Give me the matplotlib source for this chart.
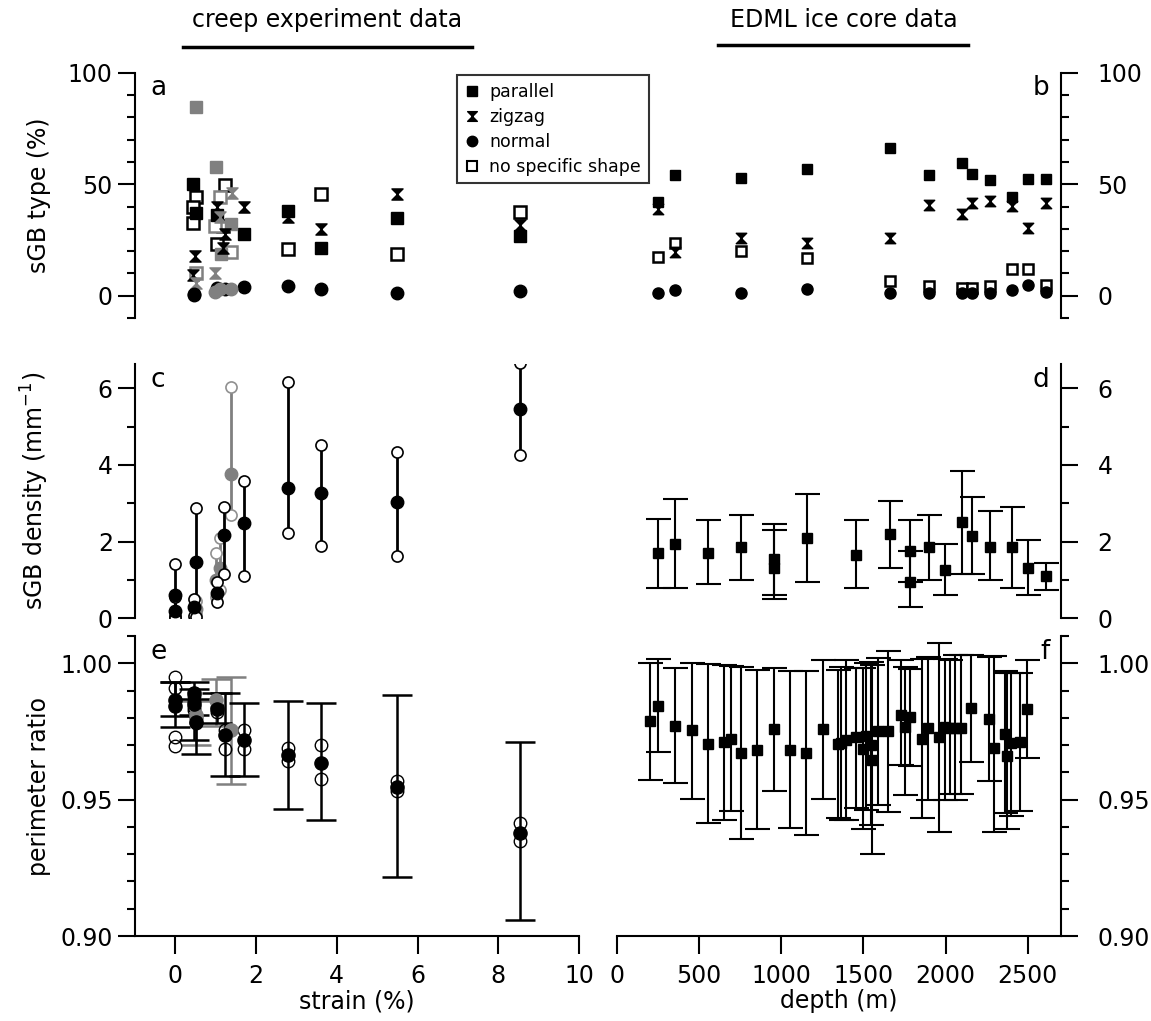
import numpy as np
import matplotlib
matplotlib.use("Agg")
import matplotlib.pyplot as plt
from matplotlib.path import Path
from matplotlib.lines import Line2D
from matplotlib.ticker import MultipleLocator

plt.rcParams['font.family'] = ['DejaVu Sans']

# ---------------- data: creep experiments (strain %) ----------------
# panel a, black samples
par_strain = [0.44, 0.51, 1.03, 1.71, 2.8, 3.6, 5.5, 8.55]
par_val = [50.1, 37.0, 36.0, 27.7, 38.0, 21.5, 35.0, 26.8]
zig_strain = [0.44, 0.48, 1.03, 1.18, 1.24, 1.71, 2.8, 3.6, 5.5, 8.55]
zig_val = [9.3, 17.9, 39.6, 21.3, 27.7, 39.9, 35.4, 30.0, 45.5, 31.6]
nor_strain = [0.46, 0.46, 1.03, 1.24, 1.71, 2.8, 3.6, 5.5, 8.55]
nor_val = [0.3, 0.9, 3.3, 2.8, 4.0, 4.2, 3.0, 1.0, 2.0]
nss_strain = [0.51, 0.44, 0.44, 1.24, 1.18, 1.03, 2.8, 3.6, 5.5, 8.55]
nss_val = [44.4, 39.6, 32.5, 49.6, 31.3, 23.2, 20.8, 45.5, 18.7, 37.5]
# panel a, grey sample
par_g_strain = [0.51, 1.0, 1.39, 1.13]
par_g_val = [84.8, 57.6, 32.0, 18.7]
zig_g_strain = [1.40, 1.11, 0.99, 0.50]
zig_g_val = [45.9, 35.4, 10.0, 5.6]
nss_g_strain = [1.11, 0.99, 1.38, 0.51]
nss_g_val = [44.1, 31.3, 19.5, 10.0]
nor_g_strain = [0.99, 1.11, 1.39]
nor_g_val = [1.5, 2.8, 2.8]

# panel c: sGB density mean, min, max
c_strain = [0, 0, 0.45, 0.5, 1.03, 1.21, 1.71, 2.8, 3.6, 5.5, 8.55]
c_mean = [0.60, 0.20, 0.30, 1.48, 0.67, 2.17, 2.49, 3.41, 3.27, 3.03, 5.45]
c_min = [0.05, 0.00, 0.05, 0.04, 0.43, 1.16, 1.10, 2.22, 1.88, 1.62, 4.26]
c_max = [1.42, 0.55, 0.50, 2.87, 0.95, 2.91, 3.59, 6.15, 4.51, 4.33, 6.65]
c_g_strain = [0.5, 1.0, 1.1, 1.38]
c_g_mean = [0.25, 1.00, 1.30, 3.76]
c_g_min = [0.10, 0.56, 0.74, 2.69]
c_g_max = [0.45, 1.71, 2.09, 6.02]

# panel e: perimeter ratio mean, error bar bounds, two single estimates
e_strain = [0, 0, 0.45, 0.45, 0.5, 1.03, 1.24, 1.71, 2.8, 3.6, 5.5, 8.55]
e_mean = [0.9866, 0.9844, 0.9890, 0.9851, 0.9786, 0.9832, 0.9738, 0.9719, 0.9665, 0.9635, 0.9548, 0.9378]
e_lo = [0.9805, 0.9768, 0.9810, 0.9717, 0.9668, 0.9780, 0.9585, 0.9585, 0.9466, 0.9424, 0.9218, 0.9057]
e_hi = [0.9933, 0.9933, 0.9933, 0.9905, 0.9870, 0.9892, 0.9892, 0.9856, 0.9863, 0.9856, 0.9884, 0.9710]
e_o1 = [0.9951, 0.9729, 0.9880, 0.9840, 0.9800, 0.9840, 0.9756, 0.9756, 0.9689, 0.9702, 0.9570, 0.9416]
e_o2 = [0.9909, 0.9695, 0.9860, 0.9830, 0.9780, 0.9820, 0.9686, 0.9686, 0.9640, 0.9577, 0.9530, 0.9350]
e_g_strain = [0.5, 1.0, 1.39]
e_g_mean = [0.9810, 0.9866, 0.9754]
e_g_lo = [0.9700, 0.9770, 0.9557]
e_g_hi = [0.9860, 0.9941, 0.9949]

# ---------------- data: EDML ice core (depth m) ----------------
b_depth = [252, 355, 755, 1159, 1660, 1902, 2101, 2159, 2272, 2402, 2502, 2608]
b_par = [42.0, 54.0, 52.6, 56.8, 66.4, 54.0, 59.4, 54.4, 51.9, 44.4, 52.3, 52.3]
b_zig = [38.9, 19.7, 25.7, 23.5, 25.7, 40.7, 36.5, 41.4, 42.5, 40.4, 30.2, 41.4]
b_nss = [17.5, 23.5, 20.2, 16.8, 6.7, 4.5, 3.3, 3.3, 4.5, 12.0, 12.0, 4.8]
b_nor = [1.0, 2.5, 1.2, 3.0, 1.0, 1.0, 1.0, 1.0, 1.0, 2.5, 4.8, 1.5]

d_depth = [252, 355, 553, 755, 954, 954, 1159, 1454, 1660, 1782, 1782, 1902, 1995, 2101, 2159, 2272, 2402, 2502, 2608]
d_val = [1.70, 1.95, 1.70, 1.85, 1.30, 1.55, 2.10, 1.65, 2.20, 0.95, 1.75, 1.85, 1.25, 2.50, 2.15, 1.85, 1.85, 1.30, 1.10]
d_lo = [0.80, 0.80, 0.90, 1.00, 0.50, 0.60, 0.95, 0.80, 1.30, 0.30, 0.95, 1.00, 0.60, 1.15, 1.15, 1.00, 0.80, 0.60, 0.75]
d_hi = [2.60, 3.10, 2.55, 2.70, 2.45, 2.30, 3.25, 2.55, 3.05, 1.75, 2.55, 2.70, 1.95, 3.85, 3.15, 2.80, 2.90, 2.05, 1.45]

f_depth = [202, 253, 354, 456, 553, 652, 694, 755, 854, 954, 1053, 1154, 1255, 1346,
           1367, 1397, 1454, 1498, 1519, 1549, 1555, 1586, 1652, 1727, 1753, 1782, 1859,
           1893, 1958, 1995, 2025, 2055, 2092, 2152, 2264, 2294, 2359, 2373, 2400, 2450, 2497]
f_val = [0.9787, 0.9845, 0.9771, 0.9754, 0.9705, 0.9711, 0.9723, 0.9671, 0.9683, 0.9759,
         0.9683, 0.9671, 0.9759, 0.9705, 0.9707, 0.9720, 0.9729, 0.9687, 0.9735, 0.9701,
         0.9647, 0.9750, 0.9750, 0.9809, 0.9766, 0.9803, 0.9723, 0.9762, 0.9729, 0.9766,
         0.9762, 0.9762, 0.9762, 0.9835, 0.9796, 0.9689, 0.9740, 0.9659, 0.9707, 0.9711, 0.9832]
f_hi = [1.0000, 1.0015, 0.9982, 1.0002, 0.9999, 0.9994, 0.9990, 0.9988, 0.9976, 0.9982,
        0.9973, 0.9973, 1.0011, 0.9976, 0.9988, 1.0012, 0.9982, 0.9982, 1.0002, 1.0006,
        0.9994, 1.0018, 1.0045, 1.0012, 0.9988, 0.9979, 1.0015, 1.0022, 1.0073, 1.0015,
        1.0012, 1.0031, 1.0031, 1.0031, 1.0022, 1.0027, 0.9970, 0.9964, 0.9966, 0.9964, 1.0012]
f_lo = [0.9573, 0.9676, 0.9560, 0.9504, 0.9413, 0.9427, 0.9458, 0.9354, 0.9393, 0.9533,
        0.9395, 0.9369, 0.9504, 0.9433, 0.9427, 0.9425, 0.9470, 0.9394, 0.9462, 0.9406,
        0.9302, 0.9482, 0.9454, 0.9628, 0.9516, 0.9625, 0.9432, 0.9500, 0.9383, 0.9500,
        0.9519, 0.9497, 0.9522, 0.9638, 0.9570, 0.9382, 0.9452, 0.9393, 0.9439, 0.9458, 0.9653]

GREY = '#808080'
hourglass = Path([(-1, 1), (1, 1), (-1, -1), (1, -1), (-1, 1)],
                 [Path.MOVETO, Path.LINETO, Path.LINETO, Path.LINETO, Path.CLOSEPOLY])

W, H = 1151, 1021
fig = plt.figure(figsize=(W / 100, H / 100), dpi=100)


def box(x0, x1, y0, y1):
    return [x0 / W, 1 - y1 / H, (x1 - x0) / W, (y1 - y0) / H]


LX = (135, 579)
RX = (616.7, 1060.7)
ax_a = fig.add_axes(box(*LX, 72.7, 318))
ax_b = fig.add_axes(box(*RX, 72.7, 318))
ax_c = fig.add_axes(box(*LX, 364, 618.3))
ax_d = fig.add_axes(box(*RX, 364, 618.3))
ax_e = fig.add_axes(box(*LX, 636, 936))
ax_f = fig.add_axes(box(*RX, 636, 936))

for ax in (ax_a, ax_b, ax_c, ax_d, ax_e, ax_f):
    for s in ax.spines.values():
        s.set_linewidth(1.5)
    ax.patch.set_alpha(0)
    ax.tick_params(which='major', length=12.5, width=1.5, labelsize=17)
    ax.tick_params(which='minor', length=6, width=1.5)

for ax in (ax_a, ax_c, ax_e):
    ax.set_xlim(-1, 10)
    ax.spines['top'].set_visible(False)
    ax.spines['right'].set_visible(False)
    if ax is not ax_e:
        ax.spines['bottom'].set_visible(False)
        ax.set_xticks([])
for ax in (ax_b, ax_d, ax_f):
    ax.set_xlim(0, 2700)
    ax.spines['top'].set_visible(False)
    ax.spines['left'].set_visible(False)
    ax.yaxis.tick_right()
    ax.tick_params(axis='y', which='major', pad=14)
    if ax is not ax_f:
        ax.spines['bottom'].set_visible(False)
        ax.set_xticks([])

for ax in (ax_a, ax_b):
    ax.set_ylim(-10, 100)
    ax.set_yticks([0, 50, 100])
    ax.yaxis.set_minor_locator(MultipleLocator(10))
for ax in (ax_c, ax_d):
    ax.set_ylim(0, 6.63)
    ax.set_yticks([0, 2, 4, 6])
    ax.yaxis.set_minor_locator(MultipleLocator(1))
for ax in (ax_e, ax_f):
    ax.set_ylim(0.90, 1.01)
    ax.set_yticks([0.90, 0.95, 1.00])
    ax.set_yticklabels(['0.90', '0.95', '1.00'])
    ax.yaxis.set_minor_locator(MultipleLocator(0.01))

ax_e.set_xticks([0, 2, 4, 6, 8, 10])
ax_f.set_xticks([0, 500, 1000, 1500, 2000, 2500])
for ax in (ax_e, ax_f):
    ax.tick_params(axis='x', which='major', length=13, pad=7)

# ---- panel a ----
ms = 8
ax_a.plot(nss_strain, nss_val, 's', ms=ms, mfc='white', mec='black', mew=1.8, ls='none')
ax_a.plot(nss_g_strain, nss_g_val, 's', ms=ms, mfc='white', mec=GREY, mew=1.8, ls='none')
ax_a.plot(par_strain, par_val, 's', ms=ms, color='black', ls='none')
ax_a.plot(par_g_strain, par_g_val, 's', ms=ms, color=GREY, ls='none')
ax_a.plot(zig_strain, zig_val, marker=hourglass, ms=ms, color='black', ls='none')
ax_a.plot(zig_g_strain, zig_g_val, marker=hourglass, ms=ms, color=GREY, ls='none')
ax_a.plot(nor_strain, nor_val, 'o', ms=ms + 1, color='black', ls='none')
ax_a.plot(nor_g_strain, nor_g_val, 'o', ms=ms + 1, color=GREY, ls='none')

# ---- panel b ----
ms = 7.5
ax_b.plot(b_depth, b_nss, 's', ms=ms, mfc='white', mec='black', mew=1.8, ls='none')
ax_b.plot(b_depth, b_zig, marker=hourglass, ms=ms, color='black', ls='none')
ax_b.plot(b_depth, b_par, 's', ms=ms, color='black', ls='none')
ax_b.plot(b_depth, b_nor, 'o', ms=ms + 0.5, color='black', ls='none')

# legend in panel a/b
handles = [
    Line2D([], [], ls='none', marker='s', ms=7, color='black'),
    Line2D([], [], ls='none', marker=hourglass, ms=7, color='black'),
    Line2D([], [], ls='none', marker='o', ms=7.5, color='black'),
    Line2D([], [], ls='none', marker='s', ms=7, mfc='white', mec='black', mew=1.5),
]
leg = fig.legend(handles, ['parallel', 'zigzag', 'normal', 'no specific shape'],
                 loc='upper left', bbox_to_anchor=(457 / W, 1 - 75 / H),
                 fontsize=12.5, frameon=True, fancybox=False, edgecolor='black',
                 handlelength=0.8, handletextpad=0.6, labelspacing=0.4,
                 borderpad=0.45, borderaxespad=0)
leg.get_frame().set_linewidth(1.5)

# ---- panel c ----
def density(ax, x, m, lo, hi, col, ocol):
    ax.vlines(x, lo, hi, color=col, lw=2)
    ax.plot(x, lo, 'o', ms=8, mfc='white', mec=ocol, mew=1.2, ls='none')
    ax.plot(x, hi, 'o', ms=8, mfc='white', mec=ocol, mew=1.2, ls='none')
    ax.plot(x, m, 'o', ms=9, color=col, ls='none')

density(ax_c, c_g_strain, c_g_mean, c_g_min, c_g_max, GREY, '#909090')
density(ax_c, c_strain, c_mean, c_min, c_max, 'black', 'black')

# ---- panel d ----
d_err = [np.subtract(d_val, d_lo), np.subtract(d_hi, d_val)]
ax_d.errorbar(d_depth, d_val, yerr=d_err, fmt='s', ms=7.5, color='black',
              ecolor='black', elinewidth=1.5, capsize=9, capthick=1.5)

# ---- panel e ----
e_err = [np.subtract(e_mean, e_lo), np.subtract(e_hi, e_mean)]
eg_err = [np.subtract(e_g_mean, e_g_lo), np.subtract(e_g_hi, e_g_mean)]
ax_e.errorbar(e_g_strain, e_g_mean, yerr=eg_err, fmt='none', ecolor=GREY,
              elinewidth=1.8, capsize=11, capthick=1.8)
ax_e.errorbar(e_strain, e_mean, yerr=e_err, fmt='none', ecolor='black',
              elinewidth=1.8, capsize=11, capthick=1.8)
ax_e.plot(e_strain, e_o1, 'o', ms=9, mfc='none', mec='black', mew=1.0, ls='none')
ax_e.plot(e_strain, e_o2, 'o', ms=9, mfc='none', mec='black', mew=1.0, ls='none')
ax_e.plot(e_g_strain, e_g_mean, 'o', ms=9.5, color=GREY, ls='none')
ax_e.plot(e_strain, e_mean, 'o', ms=9.5, color='black', ls='none')

# ---- panel f ----
f_err = [np.subtract(f_val, f_lo), np.subtract(f_hi, f_val)]
ax_f.errorbar(f_depth, f_val, yerr=f_err, fmt='s', ms=7.5, color='black',
              ecolor='black', elinewidth=1.5, capsize=9, capthick=1.5)

# ---- labels ----
ax_a.set_ylabel('sGB type (%)', fontsize=17)
ax_c.set_ylabel('sGB density (mm$^{-1}$)', fontsize=17)
ax_e.set_ylabel('perimeter ratio', fontsize=17)
for ax in (ax_a, ax_c, ax_e):
    ax.yaxis.set_label_coords(-0.19, 0.5)
ax_e.set_xlabel('strain (%)', fontsize=17, labelpad=1)
ax_f.set_xlabel('depth (m)', fontsize=17, labelpad=1)

for ax, t, side in ((ax_a, 'a', 'l'), (ax_b, 'b', 'r'), (ax_c, 'c', 'l'),
                    (ax_d, 'd', 'r'), (ax_e, 'e', 'l'), (ax_f, 'f', 'r')):
    if side == 'l':
        ax.text(0.035, 0.99, t, transform=ax.transAxes, fontsize=19, va='top', ha='left')
    else:
        ax.text(0.975, 0.99, t, transform=ax.transAxes, fontsize=19, va='top', ha='right')

fig.text(327 / W, 1 - 20 / H, 'creep experiment data', fontsize=17, ha='center', va='center')
fig.text(844 / W, 1 - 20 / H, 'EDML ice core data', fontsize=17, ha='center', va='center')
fig.add_artist(Line2D([183 / W, 472 / W], [1 - 47 / H, 1 - 47 / H], color='black', lw=2.5))
fig.add_artist(Line2D([718 / W, 968 / W], [1 - 45 / H, 1 - 45 / H], color='black', lw=2.5))

fig.savefig('out.png', dpi=100)
